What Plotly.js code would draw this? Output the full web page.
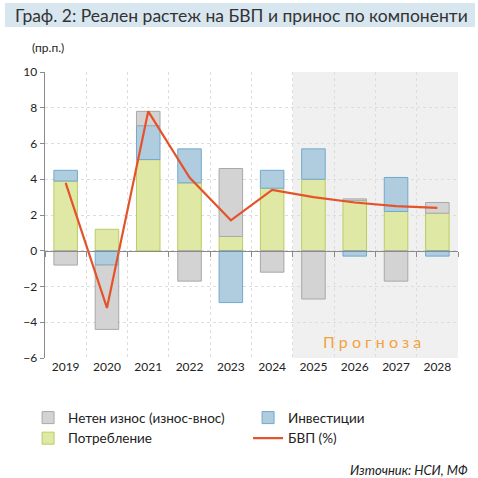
<!DOCTYPE html>
<html>
<head>
<meta charset="utf-8">
<script src="https://cdn.plot.ly/plotly-3.0.1.min.js"></script>
<style>
  html, body { margin: 0; padding: 0; background: #fff; }
  #graph { width: 478px; height: 478px; }
</style>
</head>
<body>
<div id="graph"></div>
<script>
// години и приноси (пр.п.)
var years = ['2019', '2020', '2021', '2022', '2023', '2024', '2025', '2026', '2027', '2028'];
var consumption = [3.9, 1.2, 5.1, 3.8, 0.8, 3.5, 4.0, 2.8, 2.2, 2.1];
var investment = [0.6, -0.8, 1.9, 1.9, -2.9, 1.0, 1.7, -0.3, 1.9, -0.3];
var netExports = [-0.8, -3.6, 0.8, -1.7, 3.8, -1.2, -2.7, 0.1, -1.7, 0.6];
var gdp = [3.8, -3.2, 7.8, 4.1, 1.7, 3.4, 3.0, 2.7, 2.5, 2.4];

var FONT = 'Lato, "Open Sans", sans-serif';

var traces = [
    {
        x: years, y: consumption, type: 'bar', name: 'Потребление', legendrank: 3,
        marker: { color: '#dfe8a4', line: { color: '#b9cd62', width: 1 } },
        hoverinfo: 'skip'
    },
    {
        x: years, y: investment, type: 'bar', name: 'Инвестиции', legendrank: 2,
        marker: { color: '#b0cddf', line: { color: '#72a8ca', width: 1 } },
        hoverinfo: 'skip'
    },
    {
        x: years, y: netExports, type: 'bar', name: 'Нетен износ (износ-внос)', legendrank: 1,
        marker: { color: '#d3d3d3', line: { color: '#a8a8a8', width: 1 } },
        hoverinfo: 'skip'
    },
    {
        x: years, y: gdp, type: 'scatter', mode: 'lines', name: 'БВП (%)', legendrank: 4,
        xaxis: 'x2',
        line: { color: '#e4532b', width: 2.2 },
        hoverinfo: 'skip'
    }
];

var layout = {
    width: 478,
    height: 478,
    margin: { l: 45, r: 20, t: 72, b: 120, autoexpand: false },
    paper_bgcolor: '#ffffff',
    plot_bgcolor: 'rgba(0,0,0,0)',
    font: { family: FONT, size: 12, color: '#222' },
    barmode: 'relative',
    bargap: 0.43,
    showlegend: true,
    legend: {
        orientation: 'h',
        x: -0.041, xanchor: 'left',
        y: -0.155, yanchor: 'top',
        entrywidth: 175, entrywidthmode: 'pixels',
        traceorder: 'normal',
        font: { family: FONT, size: 13.5, color: '#222' },
        bgcolor: 'rgba(0,0,0,0)'
    },
    xaxis: {
        type: 'category',
        categoryarray: years,
        range: [-0.5, 9.5],
        tickson: 'boundaries',
        ticks: '',
        showline: false,
        showgrid: true,
        gridcolor: '#dddddd',
        griddash: 'dot',
        zeroline: false,
        tickfont: { family: FONT, size: 12, color: '#222' },
        fixedrange: true
    },
    xaxis2: {
        type: 'category',
        categoryarray: years,
        range: [-0.5, 9.5],
        overlaying: 'x',
        anchor: 'free',
        position: 0.375,
        side: 'bottom',
        tickson: 'boundaries',
        showline: true,
        linecolor: '#8a8a8a',
        linewidth: 1.5,
        ticks: 'outside',
        ticklen: 5,
        tickcolor: '#8a8a8a',
        showticklabels: false,
        showgrid: false,
        zeroline: false,
        fixedrange: true
    },
    yaxis: {
        range: [-6, 10],
        dtick: 2,
        showline: true,
        linecolor: '#8a8a8a',
        linewidth: 1.5,
        ticks: 'outside',
        ticklen: 4,
        tickcolor: '#8a8a8a',
        showgrid: true,
        gridcolor: '#dddddd',
        griddash: 'dot',
        zeroline: false,
        tickfont: { family: FONT, size: 12, color: '#222' },
        fixedrange: true
    },
    shapes: [
        // прогнозен период
        {
            type: 'rect', xref: 'x', yref: 'y', x0: 5.5, x1: 9.5, y0: -6, y1: 10,
            fillcolor: '#f0f0f0', line: { width: 0 }, layer: 'below'
        },
        // лента на заглавието
        {
            type: 'rect', xref: 'paper', yref: 'paper',
            x0: -0.097, x1: 1.041, y0: 1.157, y1: 1.241,
            fillcolor: '#d8e6ef', line: { width: 0 }, layer: 'below'
        }
    ],
    annotations: [
        {
            text: 'Граф. 2: Реален растеж на БВП и принос по компоненти',
            xref: 'paper', yref: 'paper', x: -0.078, y: 1.198,
            xanchor: 'left', yanchor: 'middle', showarrow: false,
            font: { family: FONT, size: 17.5, color: '#333' }
        },
        {
            text: '(пр.п.)',
            xref: 'paper', yref: 'paper', x: -0.036, y: 1.084,
            xanchor: 'left', yanchor: 'middle', showarrow: false,
            font: { family: FONT, size: 12, color: '#222' }
        },
        {
            text: 'П р о г н о з а',
            xref: 'x', yref: 'y', x: 7.42, y: -5.05,
            xanchor: 'center', yanchor: 'middle', showarrow: false,
            font: { family: FONT, size: 16, color: '#f4a23c' }
        },
        {
            text: '<i>Източник: НСИ, МФ</i>',
            xref: 'paper', yref: 'paper', x: 1.029, y: -0.392,
            xanchor: 'right', yanchor: 'middle', showarrow: false,
            font: { family: FONT, size: 13, color: '#222' }
        }
    ]
};

Plotly.newPlot('graph', traces, layout, { displayModeBar: false, staticPlot: true });
</script>
</body>
</html>
